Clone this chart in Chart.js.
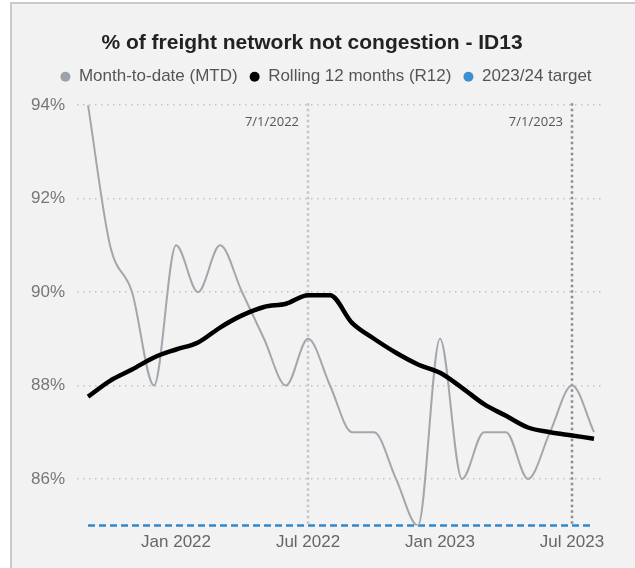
<!DOCTYPE html>
<html>
<head>
<meta charset="utf-8">
<script src="https://cdn.jsdelivr.net/npm/chart.js@4.4.0/dist/chart.umd.min.js"></script>
<style>
  html, body { margin: 0; padding: 0; background: #ffffff; }
  .panel {
    position: absolute; left: 10px; top: 2px; width: 625px; height: 566px;
    background: #f2f2f2; border-top: 2px solid #c9c9c9; border-left: 2px solid #c9c9c9;
    box-sizing: border-box;
  }
  .wrap { position: absolute; left: 0; top: 0; width: 635px; height: 568px; }
</style>
</head>
<body>
<div class="panel"></div>
<div class="wrap"><canvas id="chart"></canvas></div>
<script>
const months = [
    'Sep 2021', 'Oct 2021', 'Nov 2021', 'Dec 2021',
    'Jan 2022', 'Feb 2022', 'Mar 2022', 'Apr 2022', 'May 2022', 'Jun 2022',
    'Jul 2022', 'Aug 2022', 'Sep 2022', 'Oct 2022', 'Nov 2022', 'Dec 2022',
    'Jan 2023', 'Feb 2023', 'Mar 2023', 'Apr 2023', 'May 2023', 'Jun 2023',
    'Jul 2023', 'Aug 2023'
];
const mtdValues = [94, 91, 90, 88, 91, 90, 91, 90, 89, 88, 89, 88, 87, 87, 86, 85, 89, 86, 87, 87, 86, 87, 88, 87];
const r12Values = [87.76, 88.1, 88.34, 88.6, 88.77, 88.92, 89.24, 89.5, 89.68, 89.75, 89.93, 89.93,
    89.34, 89.0, 88.7, 88.45, 88.27, 87.95, 87.6, 87.35, 87.1, 87.0, 86.93, 86.86];
const targetValues = [85, 85, 85, 85, 85, 85, 85, 85, 85, 85, 85, 85, 85, 85, 85, 85, 85, 85, 85, 85, 85, 85, 85, 85];
const xTickLabels = ['Jan 2022', 'Jul 2022', 'Jan 2023', 'Jul 2023'];
const yTicks = [86, 88, 90, 92, 94];
const markerMonths = ['Jul 2022', 'Jul 2023'];
const markerLabels = ['7/1/2022', '7/1/2023'];
const seriesNames = ['Month-to-date (MTD)', 'Rolling 12 months (R12)', '2023/24 target'];

Chart.defaults.font.family = "'Liberation Sans', Arial, sans-serif";

// vertical dotted lines for the financial year starts
const markerLines = {
    id: 'markerLines',
    beforeDatasetsDraw(chart) {
        const { ctx, chartArea, scales } = chart;
        const colors = ['#c6c6c6', '#8d8e95'];
        markerMonths.forEach((m, i) => {
            const px = scales.x.getPixelForValue(months.indexOf(m));
            ctx.save();
            ctx.strokeStyle = colors[i];
            ctx.lineWidth = 2.5;
            ctx.setLineDash([2.5, 3]);
            ctx.beginPath();
            ctx.moveTo(px, chartArea.top - 2);
            ctx.lineTo(px, chartArea.bottom);
            ctx.stroke();
            ctx.setLineDash([]);
            ctx.fillStyle = '#555555';
            ctx.font = '13px "Open Sans"';
            ctx.textAlign = 'right';
            ctx.textBaseline = 'middle';
            ctx.fillText(markerLabels[i], px - 9, chartArea.top + 17);
            ctx.restore();
        });
    }
};

// a bit more room under the legend, and nudge it right like the original
const legendSpacer = {
    id: 'legendSpacer',
    beforeInit(chart) {
        const fit = chart.legend.fit;
        chart.legend.fit = function () {
            fit.bind(chart.legend)();
            this.height += 10;
        };
    },
    afterLayout(chart) {
        chart.legend.left += 14;
        chart.legend.right += 14;
    }
};

const legendColors = ['#9ba1a9', '#000000', '#3c8fd0'];

new Chart(document.getElementById('chart'), {
    type: 'line',
    data: {
        labels: months,
        datasets: [{
            label: seriesNames[0],
            data: mtdValues,
            borderColor: '#a2a6ad',
            borderWidth: 2,
            pointRadius: 0,
            cubicInterpolationMode: 'monotone',
            order: 1
        }, {
            label: seriesNames[1],
            data: r12Values,
            borderColor: '#000000',
            borderWidth: 4.5,
            pointRadius: 0,
            cubicInterpolationMode: 'monotone',
            order: 0
        }, {
            label: seriesNames[2],
            data: targetValues,
            borderColor: '#3388cc',
            borderWidth: 2.5,
            borderDash: [7, 4],
            pointRadius: 0,
            clip: false,
            order: 2
        }]
    },
    options: {
        responsive: true,
        maintainAspectRatio: false,
        animation: false,
        layout: {
            padding: { left: 19, right: 30, top: 0, bottom: 8 }
        },
        plugins: {
            title: {
                display: true,
                text: '% of freight network not congestion - ID13',
                color: '#222222',
                font: { size: 21, weight: 'bold' },
                padding: { top: 31, bottom: 0 }
            },
            legend: {
                labels: {
                    usePointStyle: true,
                    boxHeight: 7,
                    pointStyleWidth: 10,
                    padding: 12,
                    color: '#555555',
                    font: { size: 17 },
                    generateLabels: (chart) => chart.data.datasets.map((ds, i) => ({
                        text: ds.label,
                        fillStyle: legendColors[i],
                        strokeStyle: legendColors[i],
                        lineWidth: 0,
                        lineDash: [],
                        pointStyle: 'circle',
                        hidden: false,
                        datasetIndex: i,
                        fontColor: '#555555'
                    }))
                }
            },
            tooltip: { enabled: false }
        },
        scales: {
            x: {
                offset: true,
                grid: { display: false, drawTicks: false },
                border: { display: false },
                ticks: {
                    autoSkip: false,
                    maxRotation: 0,
                    padding: 7,
                    color: '#666666',
                    font: { size: 17 },
                    callback: function (value) {
                        const label = this.getLabelForValue(value);
                        return xTickLabels.includes(label) ? label : null;
                    }
                }
            },
            y: {
                min: 85,
                max: 94,
                afterBuildTicks: (scale) => {
                    scale.ticks = yTicks.map((v) => ({ value: v }));
                },
                grid: { color: '#c4c4c4', lineWidth: 1.5, drawTicks: false },
                border: { display: false, dash: [1.5, 4.5] },
                ticks: {
                    padding: 12,
                    color: '#777777',
                    font: { size: 17 },
                    callback: (v) => v + '%'
                }
            }
        }
    },
    plugins: [markerLines, legendSpacer]
});
</script>
</body>
</html>
